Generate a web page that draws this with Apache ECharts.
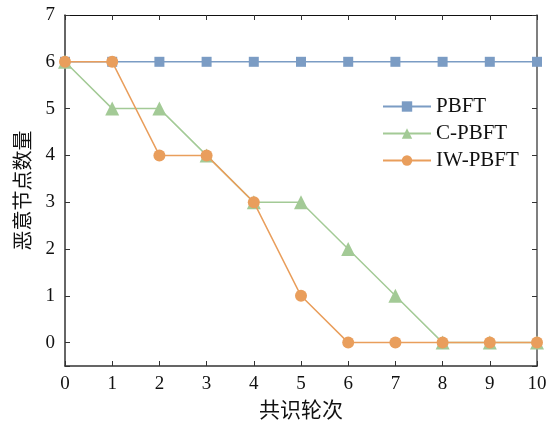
<!DOCTYPE html>
<html>
<head>
<meta charset="utf-8">
<script src="https://cdn.jsdelivr.net/npm/echarts@6/dist/echarts.min.js"></script>
<style>
  html, body { margin: 0; padding: 0; background: #fff; }
  #chart { width: 555px; height: 421px; }
</style>
</head>
<body>
<div id="chart"></div>
<script>
  // 数据
  var rounds = [0, 1, 2, 3, 4, 5, 6, 7, 8, 9, 10];
  var pbft = [6, 6, 6, 6, 6, 6, 6, 6, 6, 6, 6];
  var cpbft = [6, 5, 5, 4, 3, 3, 2, 1, 0, 0, 0];
  var iwpbft = [6, 6, 4, 4, 3, 1, 0, 0, 0, 0, 0];
  var seriesNames = ['PBFT', 'C-PBFT', 'IW-PBFT'];

  var fontFamily = '"Liberation Serif", "Noto Sans CJK SC", serif';
  var axisColor = '#333';

  function pairs(ys) {
    return rounds.map(function (x, i) { return [x, ys[i]]; });
  }

  var myChart = echarts.init(document.getElementById('chart'));
  myChart.setOption({
    animation: false,
    textStyle: { fontFamily: fontFamily },
    grid: { left: 65, right: 18, top: 15, bottom: 55, containLabel: false, outerBoundsMode: 'none' },
    legend: {
      data: seriesNames,
      orient: 'vertical',
      left: 377,
      top: 91,
      itemWidth: 48,
      itemHeight: 13,
      itemGap: 6,
      textStyle: { fontFamily: fontFamily, fontSize: 21, color: '#111', lineHeight: 21 }
    },
    xAxis: [{
      type: 'value',
      min: 0, max: 10, interval: 1,
      name: '共识轮次',
      nameLocation: 'middle',
      nameGap: 35,
      nameTextStyle: { fontSize: 21, color: '#111', fontFamily: fontFamily },
      axisLine: { onZero: false, lineStyle: { color: axisColor, width: 1.5 } },
      axisTick: { inside: true, length: 5, lineStyle: { color: axisColor } },
      axisLabel: { fontSize: 19, color: '#111', margin: 9 },
      splitLine: { show: false }
    }, {
      type: 'value', position: 'top',
      min: 0, max: 10, interval: 1,
      axisLine: { onZero: false, lineStyle: { color: '#111', width: 1.2 } },
      axisTick: { inside: true, length: 5, lineStyle: { color: axisColor } },
      axisLabel: { show: false },
      splitLine: { show: false }
    }],
    yAxis: [{
      type: 'value',
      min: -0.5, max: 7,
      minInterval: 1, maxInterval: 1,
      name: '恶意节点数量',
      nameLocation: 'middle',
      nameGap: 30,
      nameTextStyle: { fontSize: 20, color: '#111', fontFamily: fontFamily },
      axisLine: { onZero: false, lineStyle: { color: axisColor, width: 1.5 } },
      axisTick: { inside: true, length: 5, lineStyle: { color: axisColor } },
      axisLabel: {
        fontSize: 19, color: '#111', margin: 10,
        formatter: function (v) { return Number.isInteger(v) ? String(v) : ''; }
      },
      splitLine: { show: false }
    }, {
      type: 'value', position: 'right',
      min: -0.5, max: 7,
      minInterval: 1, maxInterval: 1,
      axisLine: { show: true, onZero: false, lineStyle: { color: '#555', width: 1.5 } },
      axisTick: { inside: true, length: 5, lineStyle: { color: axisColor } },
      axisLabel: { show: false },
      splitLine: { show: false }
    }],
    series: [{
      name: 'PBFT', type: 'line',
      data: pairs(pbft),
      symbol: 'rect', symbolSize: 10,
      itemStyle: { color: '#7b9cc4' },
      lineStyle: { color: '#7b9cc4', width: 1.5 },
      z: 2
    }, {
      name: 'C-PBFT', type: 'line',
      data: pairs(cpbft),
      symbol: 'triangle', symbolSize: 14,
      itemStyle: { color: '#a3ca96' },
      lineStyle: { color: '#a3ca96', width: 1.5 },
      z: 3
    }, {
      name: 'IW-PBFT', type: 'line',
      data: pairs(iwpbft),
      symbol: 'circle', symbolSize: 12,
      itemStyle: { color: '#e99e5c' },
      lineStyle: { color: '#e99e5c', width: 1.5 },
      z: 4
    }]
  });
</script>
</body>
</html>
